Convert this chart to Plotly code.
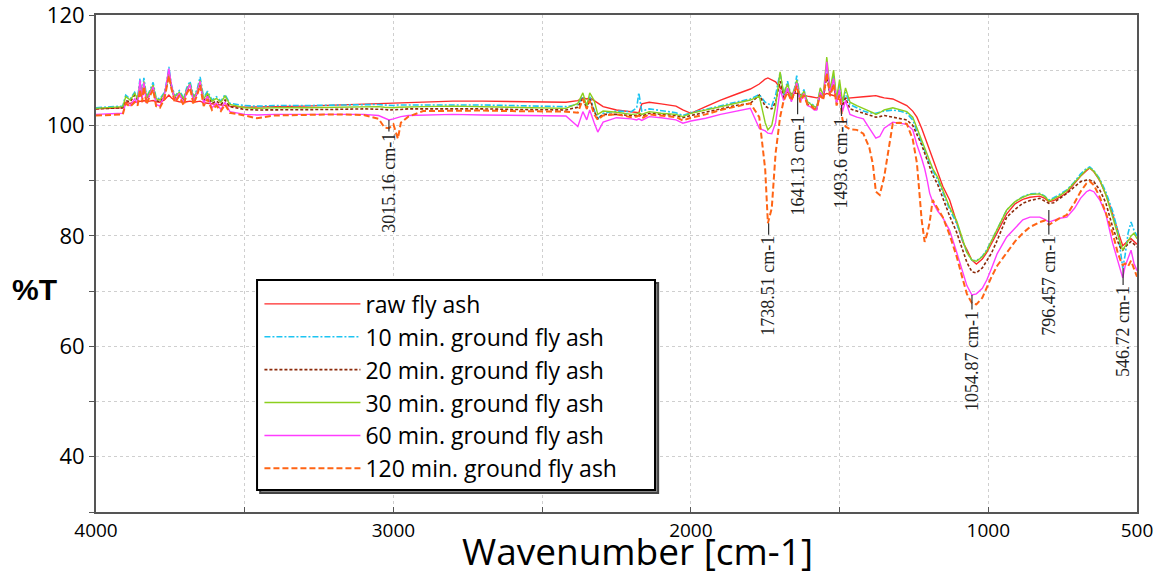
import plotly.graph_objects as go

# ---------------- data ----------------
wavenumber = [
    # 4000-3550
    4000, 3950, 3910, 3900, 3885, 3870, 3860, 3852, 3845, 3839, 3830, 3820, 3808, 3798, 3785, 3770, 3762,
    3755, 3747, 3735, 3720, 3705, 3695, 3684, 3672, 3660, 3650, 3638, 3625, 3610, 3595, 3580, 3566, 3550,
    # 3500-2000
    3500, 3459, 3400, 3300, 3200, 3100, 3050, 3030, 3015, 3000, 2985, 2975, 2950, 2900, 2800, 2700, 2600,
    2500, 2420, 2380, 2363, 2350, 2340, 2325, 2313, 2295, 2250, 2200, 2182, 2175, 2165, 2140, 2100, 2050,
    2027, 2000,
    # 1950-1480
    1950, 1900, 1850, 1800, 1770, 1750, 1741, 1728, 1715, 1700, 1688, 1675, 1662, 1650, 1644, 1632, 1620,
    1608, 1596, 1585, 1577, 1565, 1555, 1543, 1532, 1520, 1510, 1500, 1490, 1480,
    # 1465-500
    1465, 1442, 1420, 1400, 1388, 1378, 1365, 1350, 1321, 1298, 1274, 1254, 1240, 1224, 1214, 1205, 1197,
    1187, 1170, 1153, 1130, 1106, 1085, 1072, 1055, 1040, 1020, 1005, 990, 970, 938, 910, 884, 860, 827,
    810, 796, 780, 760, 736, 710, 690, 670, 659, 645, 625, 605, 582, 565, 555, 548, 540, 530, 520, 510, 500,
]

raw_fly_ash = [
    103.0, 103.1, 103.2, 104.2, 104.0, 104.3, 104.2, 104.4, 104.3, 104.5, 104.3, 104.4, 104.5, 104.3, 104.2, 104.6, 105.0,
    105.5, 105.0, 104.5, 104.3, 104.2, 104.3, 104.4, 104.2, 104.3, 104.4, 104.1, 104.0, 103.9, 103.8, 103.7, 103.6, 103.5,
    103.3, 103.3, 103.4, 103.5, 103.7, 103.9, 104.0, 104.0, 104.0, 104.0, 104.1, 104.1, 104.2, 104.3, 104.4, 104.4, 104.3,
    104.2, 104.2, 104.5, 105.0, 104.8, 105.0, 104.5, 104.0, 103.4, 102.8, 102.5, 102.4, 102.3, 103.9, 104.2, 103.9, 103.5,
    102.8, 102.2,
    103.4, 104.6, 105.6, 106.6, 107.5, 108.4, 108.6, 108.3, 107.9, 106.8, 106.3, 106.0, 105.8, 105.8, 105.8, 105.6, 105.4,
    105.3, 105.2, 105.1, 105.0, 105.2, 105.5, 105.8, 105.6, 105.4, 105.2, 105.0, 104.9, 104.9,
    105.0, 105.1, 105.2, 105.3, 105.4, 105.4, 105.2, 105.0, 104.8, 104.2, 103.6, 102.6, 101.5, 99.5, 98.0, 96.8, 95.5,
    94.0, 91.5, 89.0, 86.5, 82.5, 78.8, 77.5, 75.6, 74.9, 75.8, 77.0, 78.5, 80.6, 84.0, 85.8, 86.6, 87.0, 87.2,
    86.8, 86.2, 86.4, 87.0, 87.8, 89.5, 90.8, 91.8, 92.3, 91.6, 90.0, 87.5, 84.0, 81.0, 79.2, 78.2, 78.6, 79.2, 79.5, 79.0, 78.5,
]

ground_10min = [
    103.2, 103.3, 103.5, 105.5, 104.8, 106.0, 105.0, 108.5, 105.5, 108.6, 105.2, 106.2, 107.8, 105.0, 104.8, 106.0, 108.0,
    110.6, 107.5, 105.3, 106.3, 105.0, 106.8, 108.0, 105.2, 106.5, 108.8, 105.0, 106.2, 104.6, 105.2, 104.4, 105.6, 104.0,
    103.6, 103.5, 103.6, 103.6, 103.7, 103.8, 103.8, 103.7, 103.6, 103.6, 103.7, 103.7, 103.8, 103.8, 103.8, 103.7, 103.6,
    103.5, 103.4, 103.8, 105.2, 103.6, 105.2, 102.8, 101.2, 102.2, 102.6, 102.5, 103.2, 105.9, 102.6, 103.0, 102.7, 102.3,
    101.8, 102.3,
    102.9, 103.6, 104.2, 104.8, 105.6, 104.2, 104.0, 103.5, 105.5, 109.6, 105.5, 108.0, 105.0, 107.0, 109.0, 104.8, 106.5,
    104.2, 104.0, 103.5, 103.2, 106.5, 105.0, 110.5, 106.0, 109.0, 104.5, 107.5, 103.8, 106.0,
    103.8, 103.2, 102.6, 102.3, 102.2, 102.2, 102.4, 102.6, 102.8, 102.6, 102.2, 101.0, 99.0, 97.0, 95.5, 94.2, 93.0,
    91.8, 90.2, 87.8, 84.8, 82.2, 79.0, 77.0, 75.6, 75.5, 76.3, 77.5, 79.0, 81.3, 84.7, 86.2, 87.1, 87.6, 87.7,
    87.2, 86.5, 86.9, 87.5, 88.3, 89.8, 91.2, 92.2, 92.5, 91.8, 90.3, 88.0, 84.5, 81.0, 77.5, 74.2, 76.5, 80.5, 82.5, 81.0, 80.0,
]

ground_20min = [
    103.0, 103.1, 103.2, 104.5, 104.3, 105.5, 104.6, 107.0, 105.0, 107.5, 104.6, 105.5, 106.8, 104.5, 104.3, 105.3, 107.2,
    109.5, 106.8, 104.8, 105.6, 104.5, 106.0, 107.2, 104.6, 105.8, 107.5, 104.5, 105.3, 104.0, 104.4, 103.8, 104.6, 103.4,
    102.9, 102.8, 102.8, 102.9, 102.9, 103.0, 103.0, 102.9, 102.8, 102.8, 102.9, 102.9, 103.0, 103.0, 103.1, 103.0, 102.9,
    102.8, 102.8, 103.3, 105.0, 103.0, 104.8, 102.6, 101.2, 102.0, 102.0, 101.8, 101.8, 102.0, 101.7, 102.2, 102.0, 101.8,
    101.4, 101.8,
    102.4, 103.0, 103.6, 104.0, 105.5, 103.5, 103.2, 103.0, 104.2, 108.0, 105.0, 106.5, 104.6, 106.0, 107.5, 104.5, 105.8,
    103.8, 103.6, 103.2, 103.0, 105.8, 104.8, 109.0, 105.5, 107.5, 104.2, 106.2, 103.5, 105.0,
    103.0, 102.6, 102.2, 101.8, 101.6, 101.5, 101.6, 101.8, 101.5, 101.3, 101.0, 100.0, 98.4, 96.5, 95.0, 93.6, 92.3,
    91.0, 89.3, 86.8, 83.6, 80.6, 77.3, 75.2, 73.5, 73.3, 74.2, 75.5, 76.8, 79.2, 83.4, 84.8, 85.9, 86.4, 86.8,
    86.3, 85.9, 86.0, 86.7, 87.7, 88.9, 89.8, 90.1, 90.1, 89.8, 88.3, 86.0, 81.6, 79.0, 77.8, 77.4, 78.0, 78.5, 79.0, 78.5, 78.0,
]

ground_30min = [
    103.1, 103.3, 103.4, 105.2, 104.6, 105.8, 104.8, 107.8, 105.4, 108.0, 105.0, 106.0, 107.3, 104.8, 104.6, 105.8, 107.5,
    109.8, 107.2, 105.2, 106.0, 104.8, 106.5, 107.6, 105.0, 106.2, 108.2, 104.8, 105.8, 104.4, 104.9, 104.2, 105.3, 103.8,
    103.2, 103.1, 103.2, 103.2, 103.3, 103.4, 103.4, 103.3, 103.2, 103.2, 103.3, 103.3, 103.4, 103.4, 103.5, 103.4, 103.3,
    103.2, 103.1, 104.0, 105.9, 103.5, 105.9, 104.5, 102.0, 102.6, 102.4, 102.0, 102.1, 102.3, 102.0, 102.5, 102.2, 102.0,
    101.6, 102.2,
    102.8, 103.5, 104.0, 104.6, 105.3, 100.5, 99.2, 100.0, 103.5, 109.7, 105.8, 107.5, 105.2, 106.8, 108.2, 105.0, 106.2,
    104.3, 103.8, 103.5, 103.2, 106.8, 105.5, 112.4, 106.5, 110.0, 104.8, 108.3, 104.2, 106.8,
    104.2, 103.6, 103.0, 102.6, 102.3, 102.0, 102.3, 102.8, 103.2, 102.9, 102.5, 101.5, 99.5, 97.5, 96.0, 94.7, 93.5,
    92.2, 90.6, 88.3, 85.2, 82.7, 79.3, 77.0, 75.6, 75.4, 76.2, 77.3, 79.0, 81.2, 84.7, 86.2, 87.0, 87.5, 87.6,
    87.1, 86.3, 86.7, 87.3, 88.2, 89.7, 91.0, 92.0, 92.3, 91.7, 90.1, 87.5, 83.4, 80.0, 78.5, 77.4, 78.2, 79.0, 80.0, 80.5, 79.5,
]

ground_60min = [
    102.0, 102.1, 102.2, 104.0, 103.6, 104.8, 104.0, 108.2, 104.8, 107.8, 104.0, 105.5, 107.0, 103.8, 103.5, 105.5, 108.0,
    110.3, 107.5, 104.5, 105.8, 104.0, 106.3, 107.4, 104.3, 106.0, 108.0, 104.0, 105.3, 103.2, 104.0, 102.9, 104.2, 102.5,
    102.0, 101.9, 102.0, 102.0, 102.0, 102.0, 101.8, 101.3, 101.0, 101.2, 101.5, 101.6, 101.8, 101.9, 102.0, 101.9, 101.8,
    101.8, 101.7, 99.8, 102.5, 101.0, 102.8, 100.5, 98.8, 100.6, 101.4, 101.2, 101.0, 101.2, 100.9, 101.6, 101.4, 101.0,
    100.4, 100.8,
    101.3, 102.0, 102.6, 103.1, 99.5, 99.0, 98.6, 98.5, 100.5, 106.5, 104.5, 106.8, 104.3, 106.5, 107.7, 104.2, 105.8,
    103.6, 103.3, 102.8, 102.8, 106.0, 104.8, 111.5, 105.8, 108.5, 104.0, 106.5, 102.5, 104.5,
    102.0, 101.5, 101.2, 99.5, 98.5, 97.7, 98.0, 99.5, 100.6, 100.4, 100.2, 99.2, 96.5, 94.0, 92.2, 90.0, 87.7,
    86.2, 84.5, 83.3, 81.0, 77.0, 73.0, 71.0, 69.3, 69.5, 70.5, 72.0, 74.0, 76.8, 79.8, 81.5, 82.9, 83.4, 83.4,
    83.0, 82.5, 82.8, 83.2, 83.4, 85.0, 86.8, 88.0, 88.3, 88.0, 86.5, 84.0, 78.7, 75.5, 73.5, 72.4, 74.5, 76.0, 77.4, 75.0, 73.7,
]

ground_120min = [
    101.8, 101.9, 102.0, 104.0, 103.4, 104.2, 103.6, 106.5, 104.3, 107.0, 103.8, 105.2, 106.5, 103.5, 103.2, 104.8, 107.0,
    109.0, 106.8, 104.2, 105.3, 103.6, 105.8, 106.8, 103.8, 105.5, 107.3, 103.5, 104.8, 102.8, 103.6, 102.6, 103.8, 102.3,
    101.8, 101.3, 101.8, 101.9, 102.0, 101.9, 101.2, 99.6, 99.5, 100.2, 97.6, 100.5, 101.6, 102.6, 102.7, 102.7, 102.6,
    102.6, 102.5, 102.3, 104.8, 103.0, 104.5, 102.0, 101.0, 101.8, 102.0, 101.5, 101.6, 101.8, 101.3, 102.0, 101.8, 101.5,
    100.9, 101.4,
    102.0, 102.8, 103.4, 104.0, 101.5, 92.0, 82.3, 85.0, 95.0, 101.5, 104.5, 106.0, 104.5, 106.2, 107.2, 104.2, 105.5,
    103.8, 103.5, 103.0, 103.1, 105.5, 104.6, 109.5, 105.3, 107.5, 103.6, 105.5, 101.0, 99.8,
    99.3, 99.2, 98.5, 96.0, 93.0, 88.0, 87.4, 90.7, 100.4, 100.5, 100.3, 97.5, 93.2, 82.9, 78.9, 80.5, 82.5,
    86.5, 85.0, 83.4, 80.2, 76.2, 72.0, 69.5, 67.8, 67.6, 68.8, 70.7, 72.5, 74.6, 76.9, 79.0, 80.5, 81.6, 82.5,
    82.8, 82.0, 82.6, 83.2, 83.8, 86.0, 88.0, 89.5, 89.9, 89.2, 87.0, 84.2, 80.5, 77.0, 75.5, 74.7, 75.0, 74.5, 75.5, 74.0, 72.6,
]

series_names = [
    "raw fly ash",
    "10 min. ground fly ash",
    "20 min. ground fly ash",
    "30 min. ground fly ash",
    "60 min. ground fly ash",
    "120 min. ground fly ash",
]
series_values = [raw_fly_ash, ground_10min, ground_20min, ground_30min, ground_60min, ground_120min]

peak_wavenumbers = [3015.16, 1738.51, 1641.13, 1493.6, 1054.87, 796.457, 546.72]
peak_labels = ["3015.16 cm-1", "1738.51 cm-1", "1641.13 cm-1", "1493.6 cm-1",
               "1054.87 cm-1", "796.457 cm-1", "546.72 cm-1"]
peak_T = [101.0, 82.3, 105.9, 103.7, 69.3, 84.7, 74.2]

x_tick_values = [4000, 3000, 2000, 1000, 500]
y_tick_values = [40, 60, 80, 100, 120]

# ---------------- styles ----------------
for vals in series_values:
    assert len(vals) == len(wavenumber)

line_styles = [
    dict(color="#ff2a2a", width=1.4, dash="solid"),
    dict(color="#1cc4f2", width=1.6, dash="6px,2px,2px,2px"),
    dict(color="#8b2a0a", width=1.6, dash="3px,2px"),
    dict(color="#8ccf1e", width=1.4, dash="solid"),
    dict(color="#ff3cff", width=1.4, dash="solid"),
    dict(color="#ff6414", width=2.0, dash="6px,3px"),
]
# pixel distance from the marked point to the centre of each rotated label
label_center_offsets_px = [63, 63, 73, 58, 66, 76, 64]

fig = go.Figure()
for name, vals, style in zip(series_names, series_values, line_styles):
    fig.add_trace(go.Scatter(x=wavenumber, y=vals, mode="lines", name=name, line=style))

for wn, t, lab, off in zip(peak_wavenumbers, peak_T, peak_labels, label_center_offsets_px):
    fig.add_annotation(
        x=wn, y=t, text=lab, textangle=-90, showarrow=True, arrowhead=0,
        arrowwidth=1.2, arrowcolor="#333333", ax=0, ay=off, axref="pixel", ayref="pixel",
        font=dict(family="Liberation Serif", size=18, color="#222222"),
    )

fig.add_annotation(
    text="%T", xref="paper", yref="paper", x=-0.059, y=0.447, showarrow=False,
    xanchor="center", yanchor="middle",
    font=dict(family="Liberation Sans", size=30, color="black", weight="bold"),
)
fig.add_annotation(
    text="Wavenumber [cm-1]", xref="paper", yref="paper", x=0.52, y=-0.1328,
    xanchor="center", yanchor="bottom", showarrow=False,
    font=dict(family="Open Sans", size=37, color="black"),
)

# legend frame (with a small drop shadow), drawn as paper-referenced boxes
legend_box = dict(x0=0.1547, x1=0.537, y0=0.0443, y1=0.4668)
fig.add_shape(type="rect", xref="paper", yref="paper", layer="above",
              x0=legend_box["x0"] + 0.003, x1=legend_box["x1"] + 0.003,
              y0=legend_box["y0"] - 0.006, y1=legend_box["y1"] - 0.006,
              line=dict(color="#444444", width=2), fillcolor="#888888")
fig.add_shape(type="rect", xref="paper", yref="paper", layer="above",
              line=dict(color="black", width=2), fillcolor="white", **legend_box)

grid = dict(gridcolor="#cfcfcf", griddash="dot", gridwidth=1)
fig.update_layout(
    width=1160, height=578,
    margin=dict(l=96, r=23, t=15, b=66, autoexpand=False),
    paper_bgcolor="white", plot_bgcolor="white",
    legend=dict(
        x=0.157, y=0.462, xanchor="left", yanchor="top",
        bgcolor="rgba(0,0,0,0)", borderwidth=0,
        font=dict(family="Open Sans", size=23, color="black"),
        itemwidth=96,
    ),
    xaxis=dict(
        range=[4000, 500], tickvals=x_tick_values, showgrid=True, **grid,
        minor=dict(dtick=500, tick0=0, showgrid=True, ticks="inside", ticklen=5, tickcolor="#555", **grid),
        ticks="inside", ticklen=5, tickcolor="#555",
        showline=True, linecolor="#555555", linewidth=2, mirror=True,
        tickfont=dict(family="Open Sans", size=19, color="black"), zeroline=False,
        ticklabeloverflow="allow", automargin=False,
    ),
    yaxis=dict(
        range=[30, 120], tickvals=y_tick_values, showgrid=True, **grid,
        minor=dict(dtick=10, tick0=0, showgrid=True, ticks="outside", ticklen=5, tickcolor="#555", **grid),
        ticks="outside", ticklen=5, tickcolor="#555",
        showline=True, linecolor="#555555", linewidth=2, mirror=True,
        tickfont=dict(family="Open Sans", size=22, color="black"), zeroline=False,
        ticklabeloverflow="allow", automargin=False,
    ),
)

fig.write_html("out.html", config={"displayModeBar": False},
               post_script="document.body.style.margin='0';")
